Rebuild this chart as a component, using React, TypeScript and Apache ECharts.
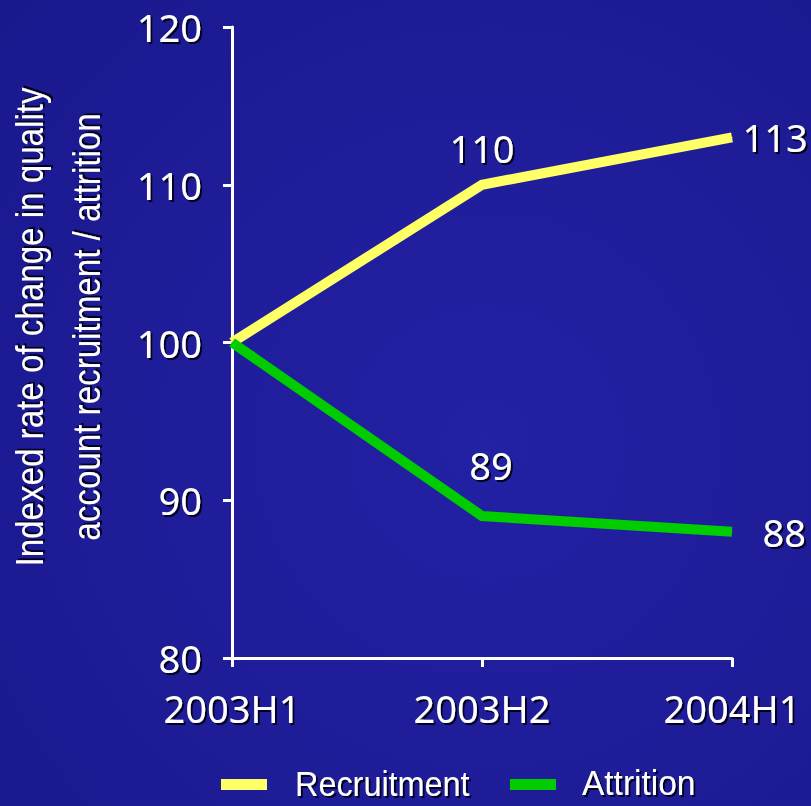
import React, { useEffect, useRef } from "react";
import * as echarts from "echarts";

const periods = ["2003H1", "2003H2", "2004H1"];
const recruitment = [100, 110, 113];
const attrition = [100, 89, 88];
const yTicks = { min: 80, max: 120, interval: 10 };
const axisTitle = ["Indexed rate of change in quality", "account recruitment / attrition"];
const seriesNames = ["Recruitment", "Attrition"];

const WHITE = "#ffffff";
const YELLOW = "#ffff66";
const GREEN = "#00cc00";
const NUM_FONT = "'Noto Sans', 'Open Sans', sans-serif";
const NARROW_FONT = "'Liberation Sans', Arial, sans-serif";

const shadow = {
  textShadowColor: "rgba(0,0,30,0.95)",
  textShadowBlur: 1,
  textShadowOffsetX: 2,
  textShadowOffsetY: 2,
};

const numLabel = {
  color: WHITE,
  fontFamily: NUM_FONT,
  fontSize: 38,
  ...shadow,
};

// horizontally squeezed text, used for the axis title and the legend
function narrowText(text: string, x: number, y: number, size: number, squeeze: number, opts: any = {}) {
  return {
    type: "text",
    x,
    y,
    scaleX: squeeze,
    rotation: opts.rotation || 0,
    silent: true,
    style: {
      text,
      fill: WHITE,
      font: `${size}px ${NARROW_FONT}`,
      lineHeight: opts.lineHeight,
      align: opts.align || "left",
      verticalAlign: "middle",
      ...shadow,
    },
  };
}

export default function App() {
  const ref = useRef<HTMLDivElement>(null);

  useEffect(() => {
    if (!ref.current) return;
    const chart = echarts.init(ref.current, undefined, { renderer: "svg" });

    // label placement per point
    const recruitLabels = [
      { show: false },
      { show: true, position: "top", distance: 17 },
      { show: true, position: "right", distance: 10 },
    ];
    const attritionLabels = [
      { show: false },
      { show: true, position: "top", distance: 32, offset: [9, 0] },
      { show: true, position: "right", distance: 30 },
    ];

    const colors = [YELLOW, GREEN];
    const legendSlots = [
      { swatchX: 221, textX: 295, squeeze: 0.9 },
      { swatchX: 510, textX: 582, squeeze: 0.93 },
    ];
    const legendY = 783;
    const legendGraphics: any[] = [];
    seriesNames.forEach((name, i) => {
      const slot = legendSlots[i];
      legendGraphics.push({
        type: "rect",
        silent: true,
        shape: { x: slot.swatchX, y: legendY - 4, width: 46, height: 11 },
        style: { fill: colors[i] },
      });
      legendGraphics.push(narrowText(name, slot.textX, legendY, 36, slot.squeeze, { lineHeight: 34 }));
    });

    chart.setOption({
      animation: false,
      backgroundColor: {
        type: "radial",
        x: 0.6,
        y: 0.55,
        r: 0.85,
        colorStops: [
          { offset: 0, color: "#2321a4" },
          { offset: 1, color: "#1a188c" },
        ],
      },
      color: colors,
      grid: { left: 232, right: 79, top: 27, bottom: 148, containLabel: false },
      xAxis: {
        type: "category",
        data: periods,
        boundaryGap: false,
        axisLine: { show: true, lineStyle: { color: WHITE, width: 3 } },
        axisTick: { show: true, inside: false, length: 9, lineStyle: { color: WHITE, width: 3 } },
        axisLabel: { ...numLabel, margin: 31, showMinLabel: true, showMaxLabel: true },
        splitLine: { show: false },
      },
      yAxis: {
        type: "value",
        min: yTicks.min,
        max: yTicks.max,
        interval: yTicks.interval,
        axisLine: { show: true, lineStyle: { color: WHITE, width: 3 } },
        axisTick: { show: true, inside: false, length: 9, lineStyle: { color: WHITE, width: 3 } },
        axisLabel: { ...numLabel, margin: 30 },
        splitLine: { show: false },
      },
      legend: { show: false, data: seriesNames },
      graphic: [
        narrowText(axisTitle.join("\n"), 58, 327, 39, 0.85, {
          rotation: Math.PI / 2,
          lineHeight: 57,
          align: "center",
        }),
        ...legendGraphics,
      ],
      series: [
        {
          name: seriesNames[0],
          type: "line",
          data: recruitment.map((v, i) => ({ value: v, label: recruitLabels[i] })),
          showSymbol: true,
          symbol: "circle",
          symbolSize: 1,
          lineStyle: { color: YELLOW, width: 10, cap: "butt", join: "miter" },
          itemStyle: { color: YELLOW },
          label: { ...numLabel },
          z: 2,
        },
        {
          name: seriesNames[1],
          type: "line",
          data: attrition.map((v, i) => ({ value: v, label: attritionLabels[i] })),
          showSymbol: true,
          symbol: "circle",
          symbolSize: 1,
          lineStyle: { color: GREEN, width: 10, cap: "butt", join: "miter" },
          itemStyle: { color: GREEN },
          label: { ...numLabel },
          z: 3,
        },
      ],
    });

    return () => chart.dispose();
  }, []);

  return (
    <div
      ref={ref}
      style={{ position: "fixed", left: 0, top: 0, width: 811, height: 806 }}
    />
  );
}
